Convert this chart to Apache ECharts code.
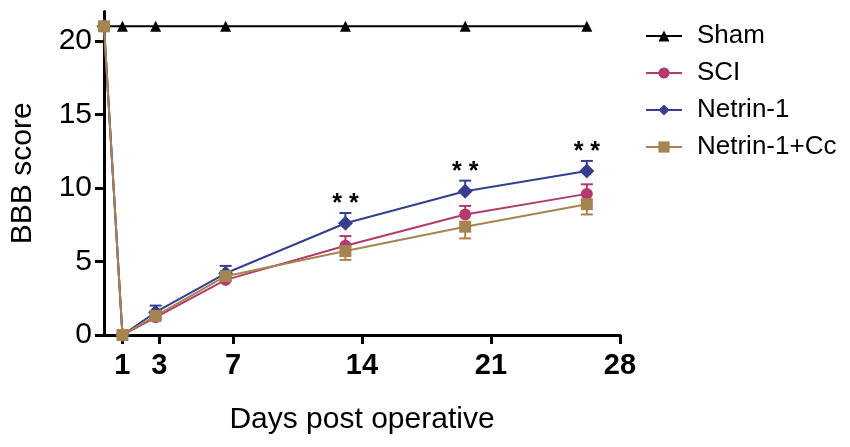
<!DOCTYPE html>
<html lang="en">
<head>
    <meta charset="UTF-8">
    <title>BBB score</title>
    <style>
        html, body { margin: 0; padding: 0; background: #fff; }
        #chart { width: 850px; height: 447px; }
    </style>
</head>
<body>
    <div id="chart"></div>
    <script src="https://cdn.jsdelivr.net/npm/echarts@6/dist/echarts.min.js"></script>
    <script>
        // data
        const days = [0, 1, 2.8, 6.6, 13.1, 19.6, 26.2];
        const dayTicks = [1, 3, 7, 14, 21, 28];
        const scoreTicks = [0, 5, 10, 15, 20];

        const sham = [21, 21, 21, 21, 21, 21, 21];
        const sci = [21, 0, 1.2, 3.75, 6.07, 8.2, 9.6];
        const sciErr = [0, 0, 0.2, 0.25, 0.66, 0.58, 0.65];      // drawn upward
        const netrin = [21, 0, 1.55, 4.2, 7.6, 9.78, 11.16];
        const netrinErr = [0, 0, 0.45, 0.5, 0.7, 0.72, 0.68];   // drawn upward
        const netrinCc = [21, 0, 1.3, 4.0, 5.71, 7.37, 8.9];
        const netrinCcErr = [0, 0, 0.25, 0.3, 0.6, 0.8, 0.7];   // drawn downward
        const starIdx = [4, 5, 6];   // points marked with "* *"

        const FONT = 'Liberation Sans, Arial, sans-serif';
        const C_SHAM = '#000000';
        const C_SCI = '#b23a6e';
        const C_NET = '#363e90';
        const C_CC = '#a6844f';

        function pairs(ys) {
            return days.map((d, i) => [d, ys[i]]);
        }

        // [x, mean, end of bar]
        function errData(ys, errs, dir) {
            return days.map((d, i) => [d, ys[i], ys[i] + dir * errs[i]]);
        }

        function errSeries(ys, errs, dir, color, z) {
            return {
                type: 'custom',
                z: z,
                silent: true,
                data: errData(ys, errs, dir),
                renderItem: function (params, api) {
                    if (api.value(1) === api.value(2)) return null;
                    const p0 = api.coord([api.value(0), api.value(1)]);
                    const p1 = api.coord([api.value(0), api.value(2)]);
                    const half = 6;
                    const style = { stroke: color, lineWidth: 2 };
                    return {
                        type: 'group',
                        children: [
                            { type: 'line', shape: { x1: p0[0], y1: p0[1], x2: p1[0], y2: p1[1] }, style: style },
                            { type: 'line', shape: { x1: p1[0] - half, y1: p1[1], x2: p1[0] + half, y2: p1[1] }, style: style }
                        ]
                    };
                }
            };
        }

        const netrinData = pairs(netrin).map((p, i) => {
            if (starIdx.indexOf(i) < 0) return p;
            return {
                value: p,
                label: {
                    show: true,
                    formatter: '* *',
                    position: 'top',
                    distance: -1,
                    color: '#000',
                    fontSize: 25,
                    fontWeight: 'bold',
                    fontFamily: FONT
                }
            };
        });

        const chart = echarts.init(document.getElementById('chart'));
        chart.setOption({
            animation: false,
            textStyle: { fontFamily: FONT },
            grid: { left: 104, right: 230, top: 11.6, bottom: 112, containLabel: false },
            legend: {
                orient: 'vertical',
                left: 640,
                top: 18,
                itemWidth: 36,
                itemHeight: 14,
                itemGap: 11,
                textStyle: { fontSize: 26, color: '#000', fontFamily: FONT, padding: [0, 0, 0, 10] },
                data: ['Sham', 'SCI', 'Netrin-1', 'Netrin-1+Cc']
            },
            xAxis: {
                type: 'value',
                min: 0,
                max: 28,
                name: 'Days post operative',
                nameLocation: 'middle',
                nameGap: 70,
                nameTextStyle: { fontSize: 30, color: '#000', fontFamily: FONT },
                axisLine: { show: true, onZero: false, lineStyle: { color: '#000', width: 3 } },
                axisTick: { show: true, length: 9, customValues: dayTicks, lineStyle: { color: '#000', width: 3 } },
                axisLabel: { customValues: dayTicks, margin: 16, fontSize: 29, fontWeight: 'bold', color: '#000', fontFamily: FONT },
                splitLine: { show: false }
            },
            yAxis: {
                type: 'value',
                min: 0,
                max: 22,
                name: 'BBB score',
                nameLocation: 'middle',
                nameRotate: 90,
                nameGap: 66,
                nameTextStyle: { fontSize: 30, color: '#000', fontFamily: FONT },
                axisLine: { show: true, onZero: false, lineStyle: { color: '#000', width: 3 } },
                axisTick: { show: true, length: 9, customValues: scoreTicks, lineStyle: { color: '#000', width: 3 } },
                axisLabel: { customValues: scoreTicks, margin: 12, fontSize: 30, color: '#000', fontFamily: FONT },
                splitLine: { show: false }
            },
            series: [
                {
                    name: 'Sham',
                    type: 'line',
                    z: 2,
                    data: pairs(sham),
                    symbol: 'triangle',
                    symbolSize: 11,
                    lineStyle: { color: C_SHAM, width: 2 },
                    itemStyle: { color: C_SHAM }
                },
                errSeries(sci, sciErr, 1, C_SCI, 3),
                {
                    name: 'SCI',
                    type: 'line',
                    z: 3,
                    data: pairs(sci),
                    symbol: 'circle',
                    symbolSize: 12,
                    lineStyle: { color: C_SCI, width: 2 },
                    itemStyle: { color: C_SCI }
                },
                errSeries(netrin, netrinErr, 1, C_NET, 4),
                {
                    name: 'Netrin-1',
                    type: 'line',
                    z: 4,
                    data: netrinData,
                    symbol: 'diamond',
                    symbolSize: 15,
                    lineStyle: { color: C_NET, width: 2 },
                    itemStyle: { color: C_NET }
                },
                errSeries(netrinCc, netrinCcErr, -1, C_CC, 5),
                {
                    name: 'Netrin-1+Cc',
                    type: 'line',
                    z: 5,
                    data: pairs(netrinCc),
                    symbol: 'rect',
                    symbolSize: 12,
                    lineStyle: { color: C_CC, width: 2 },
                    itemStyle: { color: C_CC }
                }
            ]
        });
    </script>
</body>
</html>
